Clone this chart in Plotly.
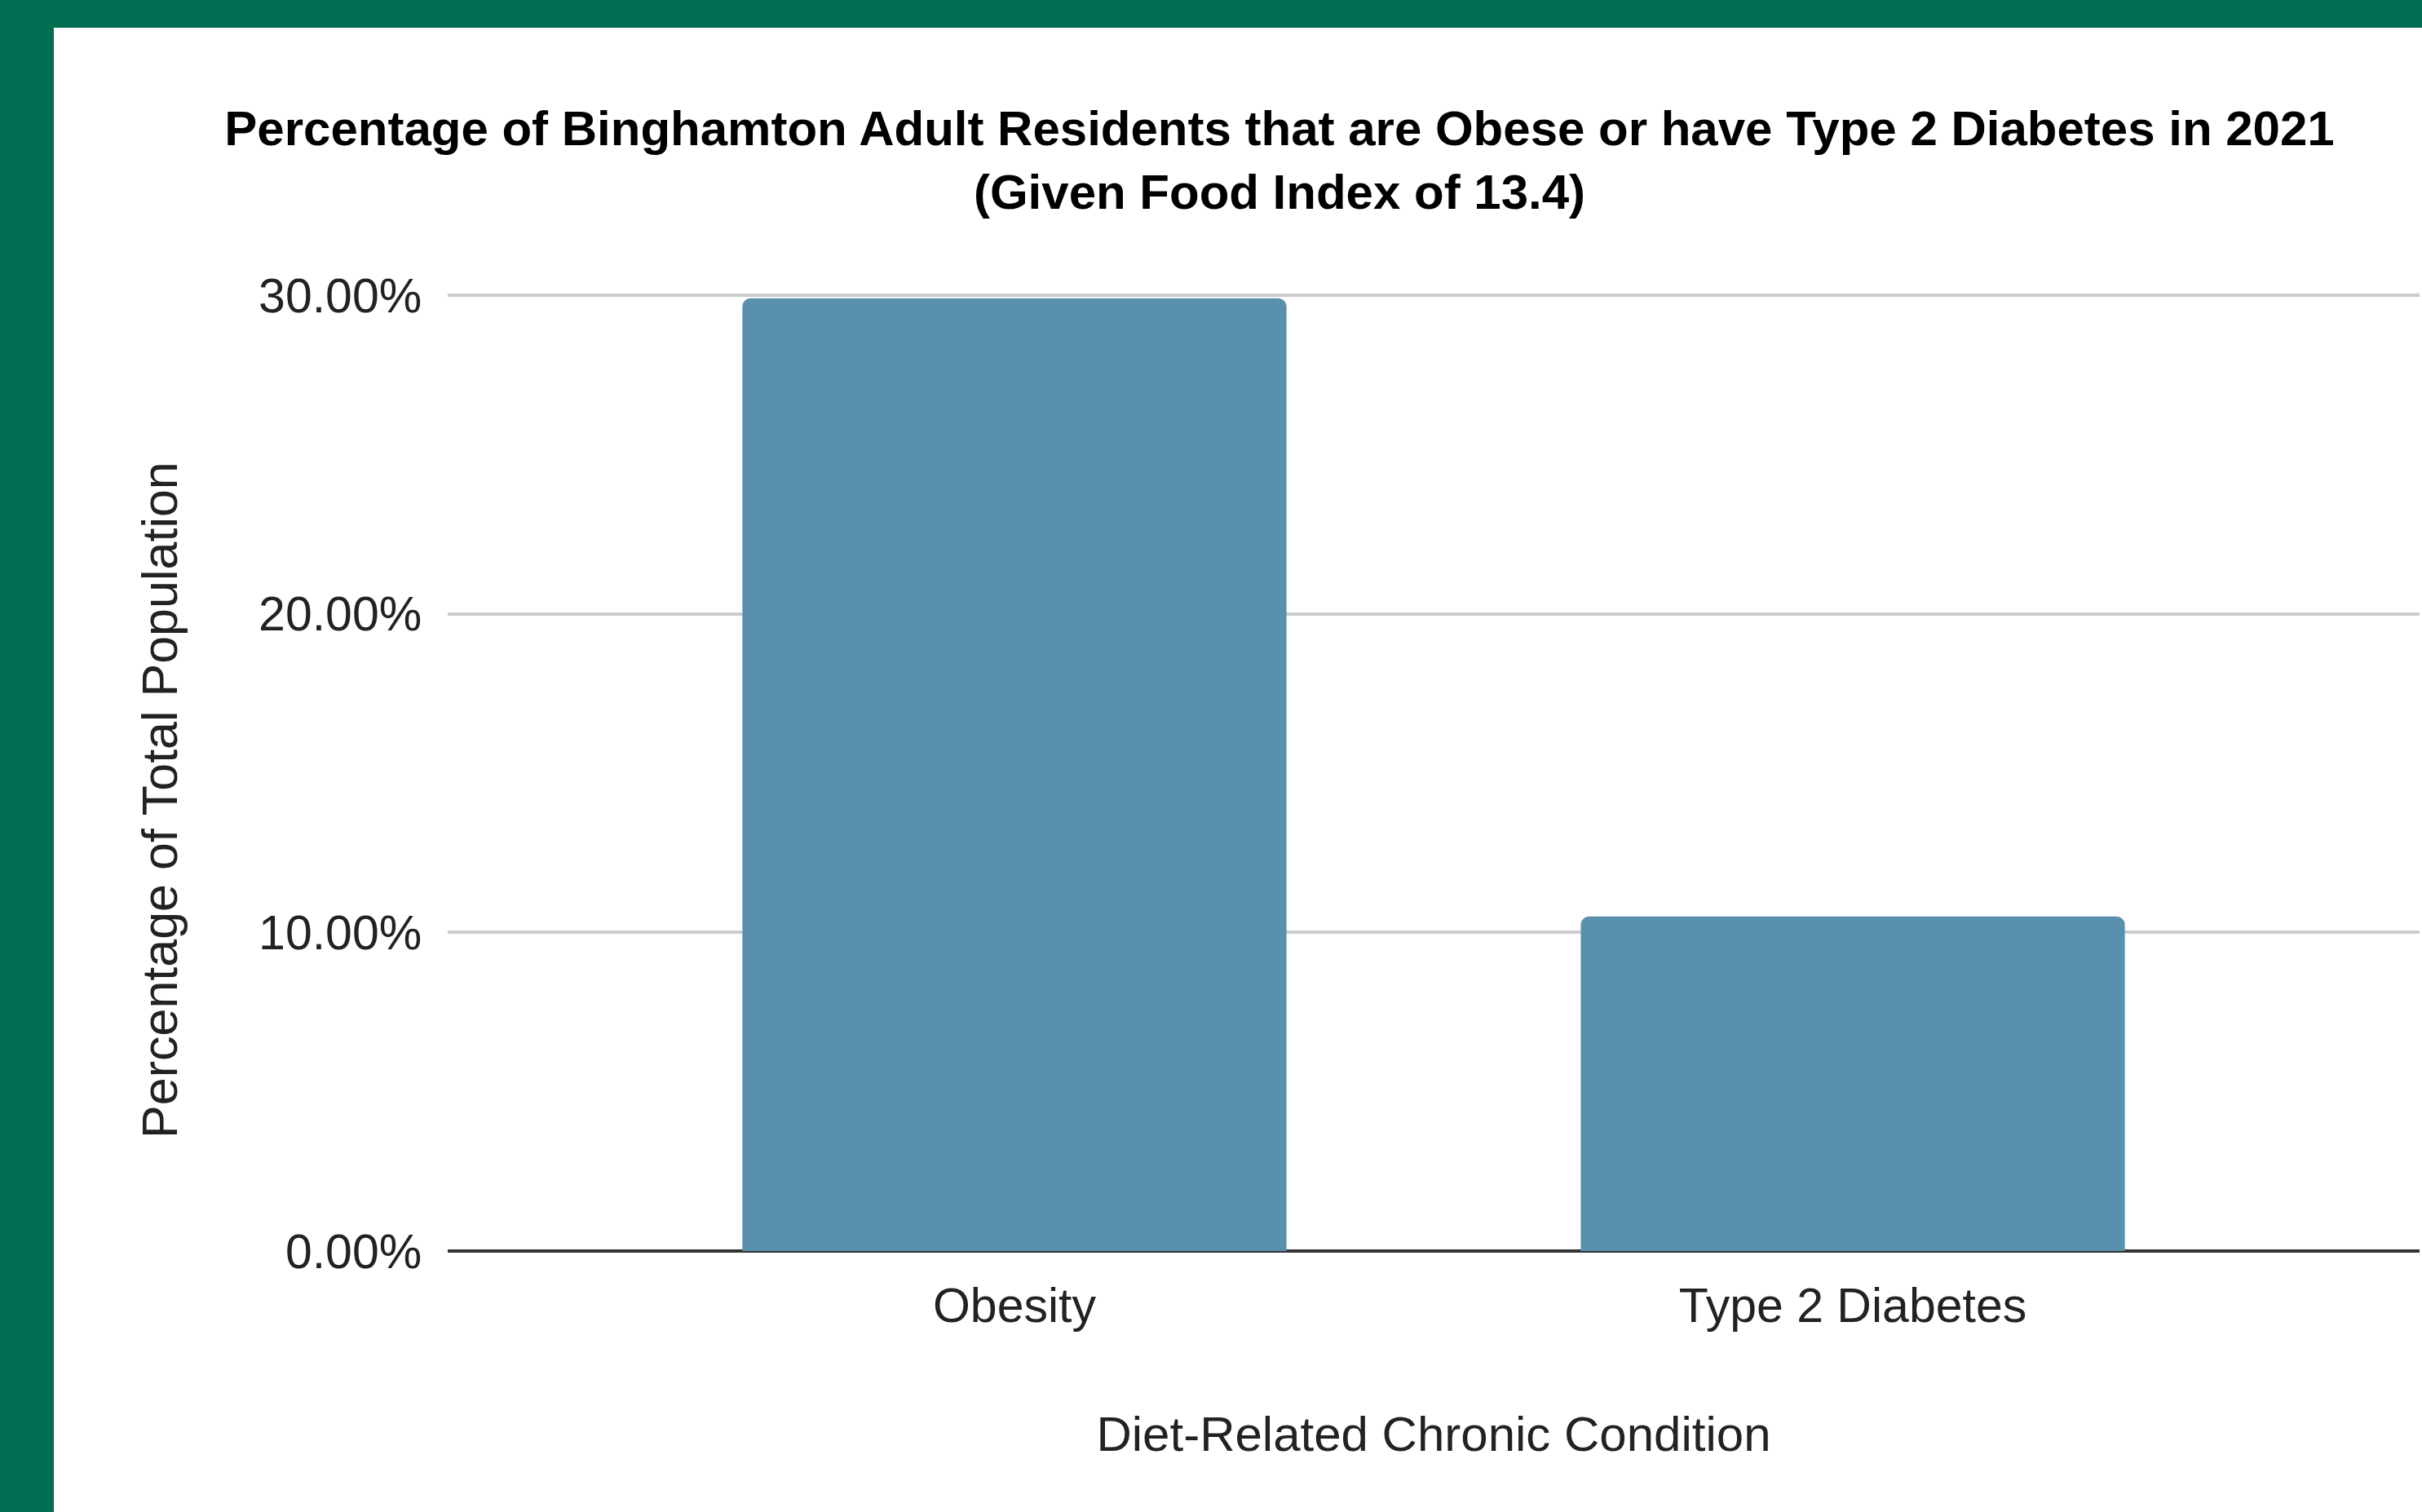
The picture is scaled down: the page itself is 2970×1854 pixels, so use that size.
import plotly.graph_objects as go

# ---- data ----
categories = ["Obesity", "Type 2 Diabetes"]
values = [0.299, 0.105]
y_ticks = [0.0, 0.1, 0.2, 0.3]

title_line1 = "Percentage of Binghamton Adult Residents that are Obese or have Type 2 Diabetes in 2021"
title_line2 = "(Given Food Index of 13.4)"
x_title = "Diet-Related Chronic Condition"
y_title = "Percentage of Total Population"

# ---- layout geometry (pixels) ----
W, H = 2970, 1854
Y_MAX = 0.301
ZERO_PX, TOP30_PX = 1534, 362
scale = (ZERO_PX - TOP30_PX) / 0.3
L, R = 549, 3
T = TOP30_PX - (Y_MAX - 0.3) * scale
B = H - ZERO_PX
plot_w = W - L - R
plot_h = H - T - B

GREEN = "#016e52"
BAR = "#5990ae"
FONT = "Liberation Sans, Arial, sans-serif"


def px_x(p):
    return (p - L) / plot_w


def px_y(p):
    return (H - B - p) / plot_h


fig = go.Figure(
    go.Bar(
        x=categories,
        y=values,
        width=0.649,
        marker=dict(color=BAR, line=dict(width=0), cornerradius=10),
        hoverinfo="x+y",
    )
)

shapes = [
    # green frame: left band and top band
    dict(type="rect", xref="paper", yref="paper",
         x0=px_x(-5), x1=px_x(66), y0=px_y(H + 5), y1=px_y(-5),
         fillcolor=GREEN, line=dict(width=0), layer="above"),
    dict(type="rect", xref="paper", yref="paper",
         x0=px_x(-5), x1=px_x(W + 5), y0=px_y(34), y1=px_y(-5),
         fillcolor=GREEN, line=dict(width=0), layer="above"),
]

annotations = [
    dict(text=y_title, textangle=-90, xref="paper", yref="paper",
         x=px_x(196), y=px_y(981), xanchor="center", yanchor="middle",
         showarrow=False, font=dict(family=FONT, size=61, color="#222222")),
]

fig.update_layout(
    width=W,
    height=H,
    margin=dict(l=L, r=R, t=T, b=B, pad=0),
    paper_bgcolor="white",
    plot_bgcolor="white",
    showlegend=False,
    font=dict(family=FONT, color="#222222", size=59),
    title=dict(
        text=f"<b>{title_line1}</b><br><b>{title_line2}</b>",
        x=1569 / W,
        xref="container",
        xanchor="center",
        y=1 - 178 / H,
        yref="container",
        yanchor="middle",
        font=dict(family=FONT, size=60, color="#000000"),
    ),
    shapes=shapes,
    annotations=annotations,
)

fig.update_xaxes(
    range=[-0.676, 1.676],
    showgrid=False,
    showline=False,
    ticks="outside",
    ticklen=15,
    tickcolor="rgba(0,0,0,0)",
    tickfont=dict(size=59, color="#222222"),
    title=dict(text=x_title, standoff=104, font=dict(size=60, color="#222222")),
    fixedrange=True,
)

fig.update_yaxes(
    range=[0, Y_MAX],
    tickvals=y_ticks,
    tickformat=".2%",
    showgrid=True,
    gridcolor="#cccccc",
    gridwidth=4,
    zeroline=True,
    zerolinecolor="#333333",
    zerolinewidth=4,
    showline=False,
    ticks="outside",
    ticklen=19,
    tickcolor="rgba(0,0,0,0)",
    tickfont=dict(size=59, color="#222222"),
    fixedrange=True,
)

fig.write_html(
    "out.html",
    config={"displayModeBar": False},
    post_script="document.body.style.margin='0';document.body.style.overflow='hidden';",
)
